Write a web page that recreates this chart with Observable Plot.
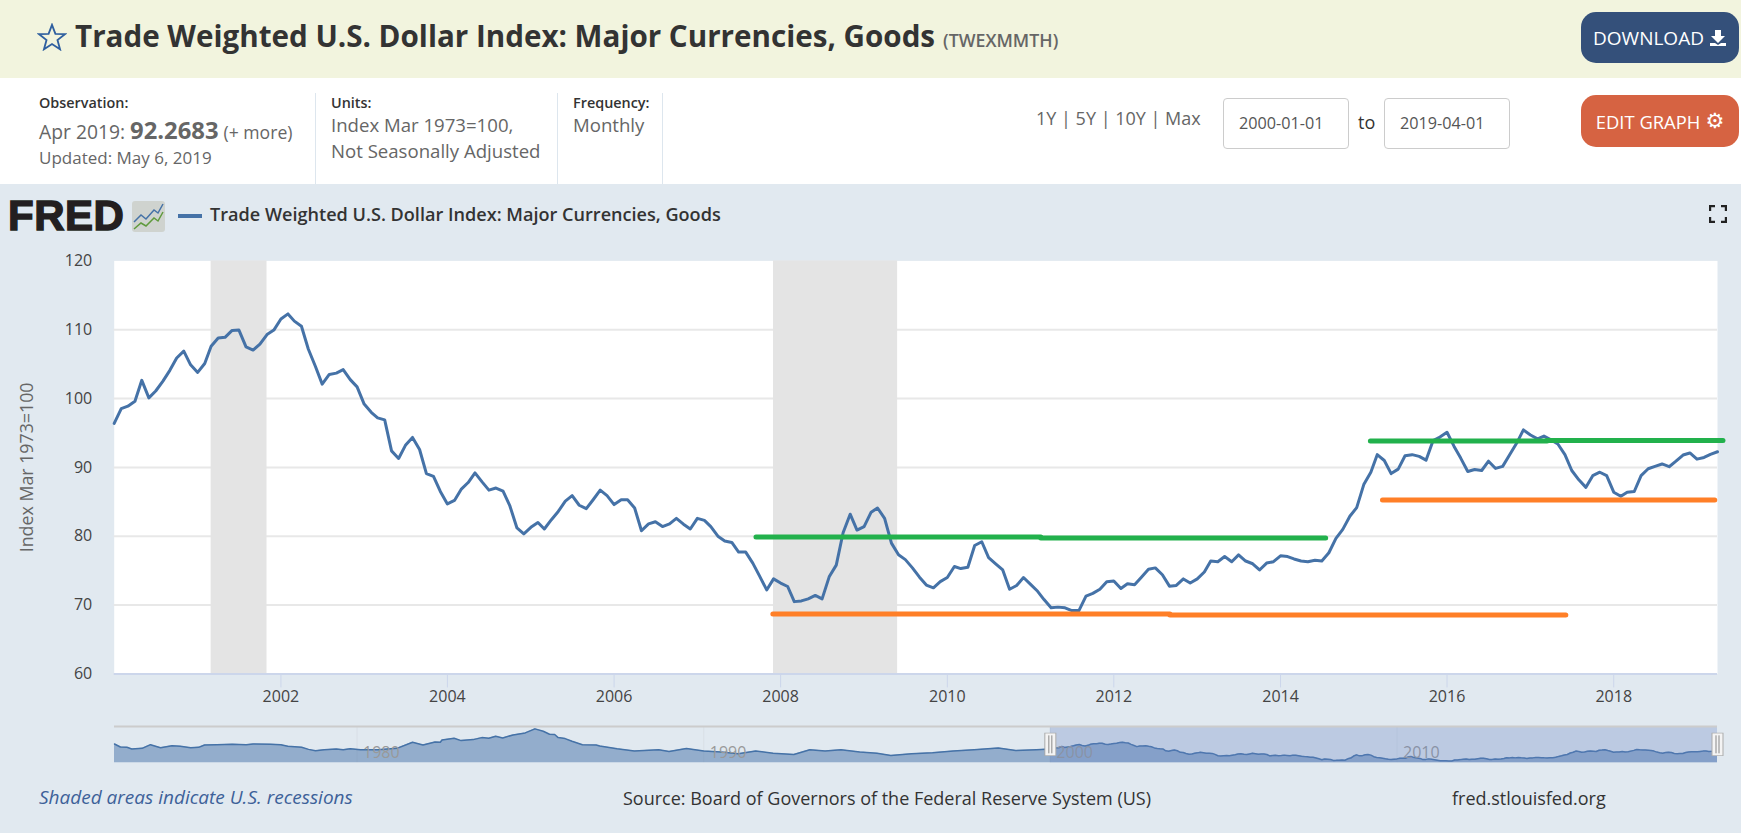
<!DOCTYPE html>
<html>
<head>
<meta charset="utf-8">
<script src="https://cdn.jsdelivr.net/npm/d3@7"></script>
<script src="https://cdn.jsdelivr.net/npm/@observablehq/plot@0.6"></script>
<style>
html,body{margin:0;padding:0;}
body{width:1741px;height:833px;overflow:hidden;background:#e1e9f0;font-family:"Open Sans",sans-serif;color:#333;position:relative;}
.abs{position:absolute;white-space:nowrap;line-height:1;}
#bar1{position:absolute;left:0;top:0;width:1741px;height:78px;background:#f2f4de;}
#bar2{position:absolute;left:0;top:78px;width:1741px;height:106px;background:#fff;}
.div{position:absolute;top:93px;height:91px;width:1px;background:#dde6ee;}
.lab{font-size:14.4px;font-weight:600;color:#333;}
.val{font-size:18.6px;color:#666;}
.btn{position:absolute;left:1581px;width:158px;border-radius:15px;color:#fff;display:flex;align-items:center;justify-content:center;gap:5px;}
.inp{position:absolute;top:98px;height:49px;width:124px;border:1px solid #ccc;border-radius:4px;background:#fff;font-size:16.2px;color:#555;line-height:49px;box-sizing:content-box;text-indent:15px;}
#main,#nav{position:absolute;left:0;}
#main{top:184px;}
#nav{top:720px;}
</style>
</head>
<body>
<div id="bar1"></div>
<div id="bar2"></div>
<svg class="abs" style="left:37px;top:23px" width="30" height="28" viewBox="0 0 24 23"><polygon points="12,1.5 14.8,8.9 22.6,9.2 16.5,14 18.6,21.6 12,17.3 5.4,21.6 7.5,14 1.4,9.2 9.2,8.9" fill="none" stroke="#2f5f9f" stroke-width="1.5"/></svg>
<div class="abs" id="title" style="left:75px;top:21px;font-size:29.6px;font-weight:700;color:#333;">Trade Weighted U.S. Dollar Index: Major Currencies, Goods</div>
<div class="abs" style="left:943px;top:32px;font-size:17.8px;font-weight:600;color:#666;">(TWEXMMTH)</div>
<div class="btn" style="top:12px;height:51px;background:#34507a;font-size:19px;">DOWNLOAD<svg width="18" height="18" viewBox="0 0 18 18"><path d="M6 1h6v6h4l-7 7-7-7h4z M1 14h5l3 2 3-2h5v3H1z" fill="#fff"/></svg></div>
<div class="btn" style="top:95px;height:52px;background:#d66342;font-size:18.4px;">EDIT GRAPH<span style="font-family:'DejaVu Sans';font-size:21px;">⚙</span></div>

<div class="abs lab" style="left:39px;top:96px;">Observation:</div>
<div class="abs val" style="left:39px;top:119px;font-size:19.3px;">Apr 2019: <b style="font-size:23.8px;">92.2683</b> <span style="font-size:17.6px;">(+ more)</span></div>
<div class="abs val" style="left:39px;top:149px;font-size:17px;">Updated: May 6, 2019</div>
<div class="div" style="left:315px;"></div>
<div class="abs lab" style="left:331px;top:96px;">Units:</div>
<div class="abs val" style="left:331px;top:116px;">Index Mar 1973=100,</div>
<div class="abs val" style="left:331px;top:142px;">Not Seasonally Adjusted</div>
<div class="div" style="left:557px;"></div>
<div class="abs lab" style="left:573px;top:96px;">Frequency:</div>
<div class="abs val" style="left:573px;top:116px;">Monthly</div>
<div class="div" style="left:662px;"></div>
<div class="abs" style="left:1036px;top:109px;font-size:18px;color:#666;">1Y | 5Y | 10Y | Max</div>
<div class="inp" style="left:1223px;">2000-01-01</div>
<div class="abs" style="left:1358px;top:113px;font-size:18px;color:#333;">to</div>
<div class="inp" style="left:1384px;">2019-04-01</div>

<div class="abs" style="left:8px;top:195px;font-family:'Liberation Sans';font-weight:700;font-size:42px;letter-spacing:0.5px;color:#231f20;-webkit-text-stroke:1.4px #231f20;">FRED</div>
<svg class="abs" style="left:132px;top:201px;" width="33" height="31" viewBox="0 0 33 31"><rect width="33" height="31" rx="3" fill="#cfd3cf"/><polyline points="2,21 9,14 14,18 22,9 26,12 31,3" fill="none" stroke="#4572a7" stroke-width="1.5"/><polyline points="2,28 9,22 14,25 22,17 26,20 31,11" fill="none" stroke="#5f9a3c" stroke-width="1.5"/></svg>
<div class="abs" style="left:178px;top:214px;width:24px;height:4px;background:#4572a7;"></div>
<div class="abs" style="left:210px;top:205px;font-size:18.1px;font-weight:600;color:#333;">Trade Weighted U.S. Dollar Index: Major Currencies, Goods</div>
<svg class="abs" style="left:1709px;top:205px;" width="18" height="18" viewBox="0 0 18 18"><path d="M1 6V1h5M12 1h5v5M17 12v5h-5M6 17H1v-5" fill="none" stroke="#222" stroke-width="2.4"/></svg>

<div id="main"></div>
<div id="nav"></div>

<div class="abs" style="left:39px;top:788px;font-size:19px;font-style:italic;color:#3d6199;">Shaded areas indicate U.S. recessions</div>
<div class="abs" style="left:623px;top:789px;font-size:18px;color:#333;">Source: Board of Governors of the Federal Reserve System (US)</div>
<div class="abs" style="left:1452px;top:789px;font-size:18px;color:#333;">fred.stlouisfed.org</div>

<script>
// Monthly index values, Jan 2000 – Apr 2019
const values2000 = [96.4,98.55,98.9,99.6,102.65,100.1,101.1,102.5,104.1,105.9,106.9,104.9];
const values2001 = [103.8,105.1,107.6,108.8,108.9,109.9,109.95,107.5,107.05,107.9,109.3,109.95];
const values2002 = [111.55,112.3,111.25,110.5,107.2,104.7,102.1,103.5,103.7,104.2,102.75,101.7];
const values2003 = [99.2,98.0,97.2,96.9,92.4,91.3,93.2,94.35,92.6,89.1,88.7,86.5];
const values2004 = [84.7,85.2,86.8,87.8,89.2,87.9,86.7,87.0,86.55,84.4,81.2,80.35];
const values2005 = [81.3,82.0,81.05,82.4,83.6,85.1,85.9,84.5,84.0,85.3,86.7,85.9];
const values2006 = [84.6,85.3,85.3,84.1,80.8,81.8,82.1,81.4,81.8,82.6,81.75,81.05];
const values2007 = [82.6,82.3,81.4,80.0,79.3,79.1,77.7,77.7,76.1,74.2,72.2,73.8];
const values2008 = [73.2,72.7,70.5,70.6,70.9,71.4,70.9,74.1,75.8,80.5,83.2,80.9];
const values2009 = [81.4,83.5,84.1,82.6,79.0,77.3,76.6,75.4,74.05,72.9,72.5,73.4];
const values2010 = [74.0,75.6,75.3,75.5,78.65,79.2,76.9,76.0,75.1,72.3,72.85,74.0];
const values2011 = [73.0,72.0,70.8,69.6,69.7,69.6,69.2,69.2,71.3,71.7,72.3,73.4];
const values2012 = [73.5,72.4,73.1,72.95,74.05,75.2,75.4,74.4,72.75,72.85,73.8,73.2];
const values2013 = [73.8,74.8,76.4,76.3,77.05,76.3,77.3,76.4,76.0,75.1,76.1,76.3];
const values2014 = [77.15,77.05,76.7,76.4,76.3,76.5,76.4,77.6,79.7,81.0,82.9,84.15];
const values2015 = [87.5,89.3,91.85,91.0,89.1,89.75,91.7,91.85,91.6,91.05,93.9,94.4];
const values2016 = [95.1,93.05,91.35,89.4,89.7,89.55,90.9,89.85,90.15,91.8,93.5,95.45];
const values2017 = [94.7,94.15,94.55,94.0,93.4,91.85,89.55,88.2,87.1,88.8,89.3,88.8];
const values2018 = [86.4,85.8,86.4,86.5,88.8,89.8,90.15,90.5,90.1,90.9,91.8,92.1];
const values2019 = [91.2,91.45,91.9,92.27];

const recessionStarts = ["2001-03-01","2007-12-01"];
const recessionEnds   = ["2001-11-01","2009-05-28"];

const xTickYears = [2002,2004,2006,2008,2010,2012,2014,2016,2018];
const yTicks = [60,70,80,90,100,110,120];
const gridValues = [70,80,90,100,110];

const greenStart = ["2007-09-15","2011-02-15","2015-01-30","2017-03-15"];
const greenEnd   = ["2011-02-15","2014-07-18","2017-03-15","2019-04-25"];
const greenFrom  = [79.9,79.75,93.83,93.92];
const orangeStart = ["2007-11-28","2012-09-03","2015-03-24"];
const orangeEnd   = ["2012-09-03","2017-06-05","2019-03-20"];
const orangeFrom  = [68.7,68.55,85.27];

// Navigator history before 2000 (decimal year, value)
const navYears = [1973,1973.17,1973.36,1973.5,1973.8,1974.04,1974.33,1974.66,1974.9,1975.2,1975.43,1975.6,1975.95,1976.4,1976.8,1977,1977.5,1977.8,1978,1978.4,1978.6,1978.8,1979.05,1979.4,1979.6,1979.8,1980.1,1980.6,1981.15,1981.6,1981.9,1982.25,1982.4,1982.45,1982.8,1983,1983.35,1983.6,1983.8,1984,1984.2,1984.5,1984.85,1985.13,1985.37,1985.55,1985.7,1985.8,1986,1986.2,1986.5,1986.9,1987,1987.5,1988,1988.7,1989,1989.5,1990,1990.5,1991,1991.5,1992,1992.6,1993.06,1993.5,1993.96,1994.5,1995,1995.4,1996,1996.6,1997.2,1997.8,1998.5,1999,1999.6];
const navValues = [108.2,101.2,100.5,96.6,98.2,106.6,99.7,104.3,102.8,99.7,100.5,105.9,106.6,107.4,106.6,108.2,107.4,106.6,102.8,100.5,95.8,92.8,95,96.6,95,97.4,95,95,98.2,112,105.9,112.8,112,117.4,121.3,115.9,118.2,122.8,121.3,125.9,122,129,133.6,142.9,137.5,130.6,129.8,122.8,120.5,114.4,106.6,105.9,103.6,97,92,95,91,98,92,90,86,92,87,84,95,92,95,90,87,82,86,88,92,95,99,93,95];
const navTickYears = [1980,1990,2000,2010];

const monthly = [values2000,values2001,values2002,values2003,values2004,values2005,values2006,values2007,values2008,values2009,values2010,values2011,values2012,values2013,values2014,values2015,values2016,values2017,values2018,values2019]
  .flatMap((vals,i)=>vals.map((value,m)=>({date:new Date(Date.UTC(2000+i,m,1)),value})));
const d = s => new Date(s+"T00:00:00Z");
const decYear = y => {const f=Math.floor(y);const a=Date.UTC(f,0,1),b=Date.UTC(f+1,0,1);return new Date(a+(y-f)*(b-a));};
const yearDate = y => new Date(Date.UTC(y,0,1));

const FONT = '"Open Sans",sans-serif';
const blue = "#4572a7";
const xDomain = [new Date(Date.UTC(2000,0,1)),new Date(Date.UTC(2019,3,1))];

const recessions = recessionStarts.map((s,i)=>({x1:d(s),x2:d(recessionEnds[i])}));
const greens = greenStart.map((s,i)=>({x1:d(s),x2:d(greenEnd[i]),y:greenFrom[i]}));
const oranges = orangeStart.map((s,i)=>({x1:d(s),x2:d(orangeEnd[i]),y:orangeFrom[i]}));

const main = Plot.plot({
  width:1741,height:540,
  marginLeft:113.7,marginRight:24,marginTop:76.4,marginBottom:50.6,
  style:{background:"transparent",fontFamily:FONT,fontSize:"16px",overflow:"visible"},
  x:{type:"utc",domain:xDomain},
  y:{domain:[60,120]},
  marks:[
    Plot.frame({fill:"#fff",stroke:null}),
    Plot.gridY(gridValues,{stroke:"#e8e8e8",strokeOpacity:1,strokeWidth:2}),
    Plot.rect(recessions,{x1:"x1",x2:"x2",y1:60,y2:120,fill:"#e4e4e4"}),
    Plot.ruleY([60],{stroke:"#ccd6eb",strokeWidth:2}),
    Plot.axisX(xTickYears.map(yearDate),{tickSize:14,tickPadding:3,stroke:"#ccd6eb",fill:"#444",fontSize:16,tickFormat:t=>String(t.getUTCFullYear()),label:null}),
    Plot.axisY(yTicks,{tickSize:0,tickPadding:22,fill:"#444",fontSize:16,label:null}),
    Plot.text(["Index Mar 1973=100"],{frameAnchor:"left",textAnchor:"middle",rotate:-90,dx:-87,fontSize:17.8,fill:"#666"}),
    Plot.line(monthly,{x:"date",y:"value",stroke:blue,strokeWidth:3}),
    Plot.link(greens,{x1:"x1",x2:"x2",y1:"y",y2:"y",stroke:"#22b14c",strokeWidth:5,strokeLinecap:"round"}),
    Plot.link(oranges,{x1:"x1",x2:"x2",y1:"y",y2:"y",stroke:"#ff7f27",strokeWidth:5,strokeLinecap:"round"})
  ]
});
document.getElementById("main").appendChild(main);

const navSeries = navYears.map((y,i)=>({date:decYear(y),value:navValues[i]})).concat(monthly);
const navDomain = [new Date(Date.UTC(1973,0,1)),new Date(Date.UTC(2019,3,1))];
const navHandleLow = 79.6, navHandleHigh = 132.8, navBase = 65, navTop = 148.3, navLabelY = 88.8;
const nav = Plot.plot({
  width:1741,height:50,
  marginLeft:114,marginRight:24,marginTop:6,marginBottom:7.7,
  style:{background:"transparent",fontFamily:FONT,overflow:"visible"},
  x:{type:"utc",domain:navDomain,axis:null},
  y:{domain:[navBase,navTop],axis:null},
  marks:[
    Plot.ruleX(navTickYears.map(yearDate),{stroke:"#d8dfe6",strokeWidth:1}),
    Plot.areaY(navSeries,{x:"date",y1:navBase,y2:"value",fill:blue,fillOpacity:0.5}),
    Plot.line(navSeries,{x:"date",y:"value",stroke:blue,strokeWidth:1.5}),
    Plot.text(navTickYears,{x:yearDate,y:navLabelY,text:t=>String(t),textAnchor:"start",dx:6,fill:"#999",fontSize:16}),
    Plot.rect([{x1:xDomain[0],x2:xDomain[1]}],{x1:"x1",x2:"x2",y1:navBase,y2:navTop,fill:"rgb(102,133,194)",fillOpacity:0.3}),
    Plot.ruleY([navTop],{stroke:"#cccccc",strokeWidth:2}),
    Plot.ruleX(xDomain,{y1:navHandleLow,y2:navHandleHigh,stroke:"#aaaaaa",strokeWidth:12}),
    Plot.ruleX(xDomain,{y1:navHandleLow+1.5,y2:navHandleHigh-1.5,stroke:"#f4f4f4",strokeWidth:10}),
    Plot.ruleX(xDomain,{y1:navHandleLow+6,y2:navHandleHigh-6,stroke:"#888888",strokeWidth:1,dx:-1.5}),
    Plot.ruleX(xDomain,{y1:navHandleLow+6,y2:navHandleHigh-6,stroke:"#888888",strokeWidth:1,dx:1.5})
  ]
});
document.getElementById("nav").appendChild(nav);
</script>
</body>
</html>
